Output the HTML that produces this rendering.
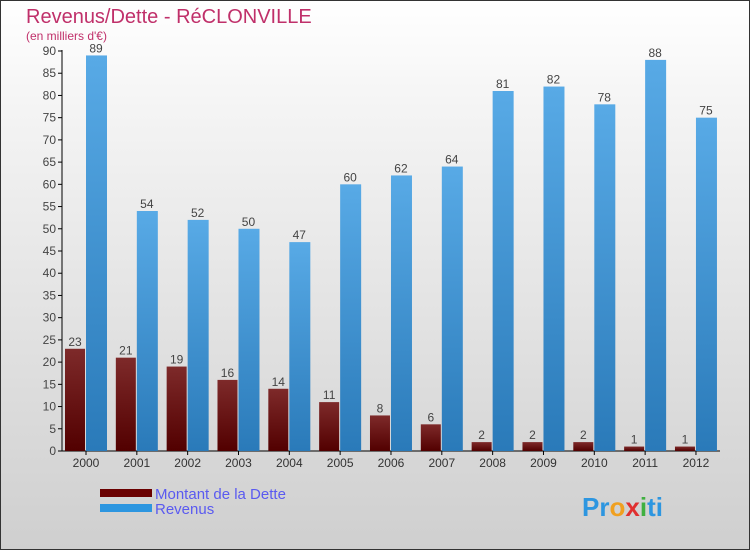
<!DOCTYPE html>
<html><head><meta charset="utf-8"><style>
body{margin:0;width:750px;height:550px;overflow:hidden;font-family:"Liberation Sans",sans-serif}
#wrap{position:absolute;left:0;top:0;width:748px;height:548px;border:1px solid #333;background:linear-gradient(#fff,#f4f4f4 20%,#cfcfcf)}
</style></head><body>
<div id="wrap">
<svg width="750" height="550" style="position:absolute;left:-1px;top:-1px">
<defs>
<linearGradient id="gd" x1="0" y1="0" x2="0" y2="1"><stop offset="0" stop-color="#7e2a2a"/><stop offset="1" stop-color="#520000"/></linearGradient>
<linearGradient id="gr" x1="0" y1="0" x2="0" y2="1"><stop offset="0" stop-color="#58aae6"/><stop offset="1" stop-color="#2a7ab9"/></linearGradient>
</defs>
<text x="26" y="23" font-size="20" fill="#c0306a">Revenus/Dette - RéCLONVILLE</text>
<text x="26" y="40" font-size="12" fill="#c0306a">(en milliers d'€)</text>
<g id="axes"></g><g id="bars"></g>
<rect x="100" y="489" width="52" height="8" fill="#6a0000"/>
<rect x="100" y="504" width="52" height="8" fill="#2d96e0"/>
<text x="155" y="499" font-size="15" fill="#5a5af0">Montant de la Dette</text>
<text x="155" y="514" font-size="15" fill="#5a5af0">Revenus</text>
<text x="582" y="516" font-size="26" font-weight="bold"><tspan fill="#2d96e0">Pr</tspan><tspan fill="#f0a020">o</tspan><tspan fill="#e03030">x</tspan><tspan fill="#40b040">i</tspan><tspan fill="#2d96e0">ti</tspan></text>
</svg></div>
<script>
const years=["2000","2001","2002","2003","2004","2005","2006","2007","2008","2009","2010","2011","2012"];
const dette=[23,21,19,16,14,11,8,6,2,2,2,1,1];
const revenus=[89,54,52,50,47,60,62,64,81,82,78,88,75];
const yTicks=[0,5,10,15,20,25,30,35,40,45,50,55,60,65,70,75,80,85,90];
const NS="http://www.w3.org/2000/svg";
const y=v=>451-v*400/90;
const cx=i=>86+i*50.83;
function mk(tag,attrs,parent,text){const e=document.createElementNS(NS,tag);for(const k in attrs)e.setAttribute(k,attrs[k]);if(text!==undefined)e.textContent=text;parent.appendChild(e);return e;}
const ax=document.getElementById('axes'),bg=document.getElementById('bars');
const yl=mk('line',{x1:62,y1:50,x2:62,y2:451,stroke:'#000'},ax);


const xl=mk('line',{x1:58,y1:451,x2:720,y2:451,stroke:'#000'},ax);


yTicks.forEach(t=>{
 mk('line',{x1:58,y1:y(t),x2:62,y2:y(t),stroke:'#000'},ax);
 const tx=mk('text',{x:56,y:y(t)+4,'font-size':12,fill:'#444','text-anchor':'end'},ax,t);
 
 
});
years.forEach((yr,i)=>{
 const c=cx(i);
 mk('line',{x1:c,y1:451,x2:c,y2:455,stroke:'#000'},ax);
 const t=mk('text',{x:c,y:467,'font-size':12,fill:'#333','text-anchor':'middle'},ax,yr);
 
 
 const b1=mk('rect',{x:c-21,y:y(dette[i]),width:20,height:451-y(dette[i]),fill:'url(#gd)'},bg);
 
 
 const b2=mk('rect',{x:c,y:y(revenus[i]),width:21,height:451-y(revenus[i]),fill:'url(#gr)'},bg);
 
 
 const l1=mk('text',{x:c-11,y:y(dette[i])-3,'font-size':12,fill:'#444','text-anchor':'middle'},bg,dette[i]);
 
 
 const l2=mk('text',{x:c+10,y:y(revenus[i])-3,'font-size':12,fill:'#444','text-anchor':'middle'},bg,revenus[i]);
 
 
});
</script>
</body></html>
